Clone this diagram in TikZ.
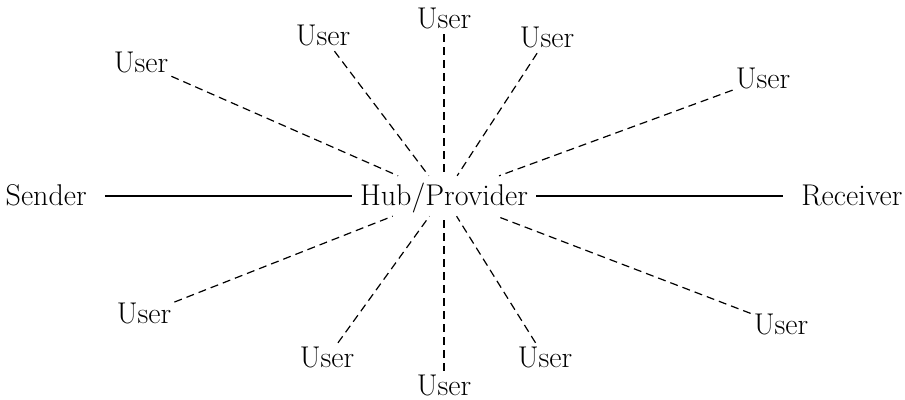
\documentclass[tikz,border=0pt]{standalone}
\usepackage{fontspec}
\usepackage{tikz}
\usetikzlibrary{positioning}

\begin{document}
\begin{tikzpicture}[x=1pt,y=-1pt,
   every node/.style={font=\fontsize{30}{36}\selectfont,text height=21pt,text depth=3pt},
   hubnode/.style={inner sep=8pt,anchor=base},
   endnode/.style={inner sep=18pt},
   usernode/.style={inner sep=3pt,anchor=base},
   link/.style={line width=1.2pt},
   userlink/.style={line width=1.2pt,dash pattern=on 8pt off 5pt}]
  \useasboundingbox (0,0) rectangle (905,399);
  % provider in the middle, sender and receiver on either side
  \node[hubnode] (hub) at (444,205) {Hub/Provider};
  \node[endnode,base left=247pt of hub] (sender) {Sender};
  \node[endnode,base right=247pt of hub] (receiver) {Receiver};
  \draw[link] (sender) -- (hub);
  \draw[link] (hub) -- (receiver);
  % users round the hub
  \foreach \i/\x/\y in {1/141/72, 2/323/45, 3/444/28, 4/547/47, 5/763/88,
                        6/781/334, 7/545/367, 8/444/395, 9/327/367, 10/144/323}
  {
    \node[usernode] (u\i) at (\x,\y) {User};
    \draw[userlink] (u\i) -- (hub);
  }
\end{tikzpicture}
\end{document}
